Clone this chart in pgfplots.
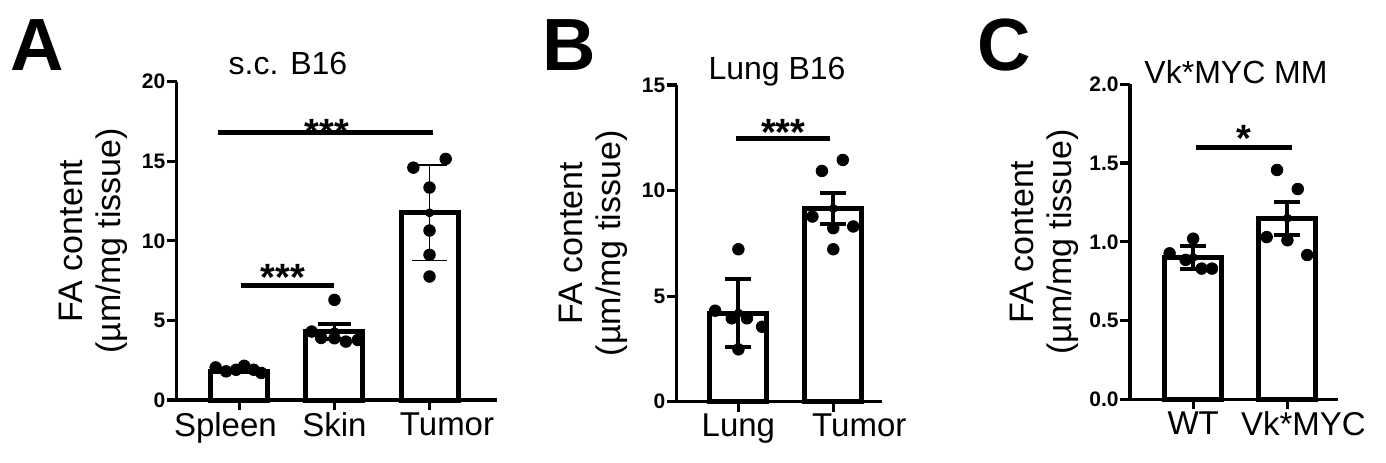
\documentclass[border=0pt]{standalone}
\usepackage{pgfplots}
\pgfplotsset{compat=1.18}
\usepackage{fontspec}
\setmainfont{Liberation Sans}

\pgfplotsset{
  panel/.style={
    scale only axis, clip=false,
    axis x line*=bottom, axis y line*=left,
    axis line style={line width=1.6pt, -},
    tick align=outside, major tick length=5pt,
    tick style={line width=1.6pt, black},
    ymin=0, minor tick num=0,
    /pgf/number format/assume math mode=true,
    yticklabel style={font=\fontsize{10.5}{12}\selectfont\bfseries, inner sep=0.5pt},
    xticklabel style={font=\fontsize{16.5}{18}\selectfont, inner sep=1pt},
    ylabel style={font=\fontsize{17}{19}\selectfont, align=center, anchor=center},
    ylabel={FA content\\(µm/mg tissue)},
  },
  bars/.style={ybar, bar shift=0pt, bar width=28.5pt, fill=white, draw=black, line width=2.5pt},
  dots/.style={only marks, mark=*, mark size=2.9pt, black},
  sig/.style={black, line width=2.4pt, no marks},
  errb/.style 2 args={black, only marks, mark=none, forget plot,
    error bars/.cd, y dir=both, y explicit,
    error bar style={line width=#1, black},
    error mark options={rotate=90, line width=#1, black, mark size=#2}},
}
\newcommand{\starfont}{\fontsize{19}{21}\selectfont\bfseries}

\begin{document}
\begin{tikzpicture}
\useasboundingbox (0,0) rectangle (693pt,231pt);

% ---------------- Panel A ----------------
\begin{axis}[panel,
  at={(88.35pt,31pt)}, anchor=south west,
  width=160.15pt, height=159.15pt,
  xmin=-0.66, xmax=2.71, ymax=20,
  ytick={0,5,10,15,20},
  xtick={0,1,2},
  xticklabels={\hspace*{-14pt}Spleen,Skin,\hspace*{17.5pt}Tumor},
  ylabel style={at={(axis description cs:-0.259,0.5)}},
]
\addplot[bars] coordinates {(0,1.78) (1,4.3) (2,11.76)};
\addplot[errb={1.8pt}{8.3pt}] coordinates {(1,4.3) +- (0,0.47)};
\addplot[errb={0.9pt}{8.7pt}] coordinates {(2,11.76) +- (0,3.0)};
\addplot[dots] coordinates {
  (-0.25,2.05) (-0.14,1.8) (-0.035,1.9) (0.05,2.15) (0.15,1.9) (0.23,1.7)
  (0.76,4.3) (0.86,3.9) (1.0,3.88) (1.12,3.67) (1.245,3.77) (1.0,6.29)
  (1.83,14.6) (2.17,15.15) (2.0,13.35) (2.0,10.65) (2.0,9.12) (2.0,7.76)};
\addplot[sig] coordinates {(-0.23,16.8) (2.04,16.8)};
\addplot[sig] coordinates {(0.02,7.19) (1.0,7.19)};
\node[anchor=base, font=\starfont, inner sep=0pt] at (axis cs:0.92,16.0) {***};
\node[anchor=base, font=\starfont, inner sep=0pt] at (axis cs:0.456,6.85) {***};
\end{axis}

% ---------------- Panel B ----------------
\begin{axis}[panel,
  at={(338.35pt,30.15pt)}, anchor=south west,
  width=102.5pt, height=158.35pt,
  xmin=-0.65, xmax=1.51, ymax=15,
  ytick={0,5,10,15},
  xtick={0,1},
  xticklabels={Lung,\hspace*{26pt}Tumor},
  ylabel style={at={(axis description cs:-0.405,0.5)}},
]
\addplot[bars] coordinates {(0,4.2) (1,9.15)};
\addplot[errb={2pt}{6.5pt}] coordinates {(0,4.2) +- (0,1.6) (1,9.15) +- (0,0.73)};
\addplot[dots] coordinates {
  (0,7.22) (-0.245,4.31) (-0.07,3.95) (0.09,3.95) (0.25,3.55) (0,2.48)
  (1.1,11.45) (0.88,10.93) (0.78,8.77) (1.0,8.22) (1.21,8.3) (1.0,7.22)};
\addplot[sig] coordinates {(-0.02,12.45) (0.97,12.45)};
\node[anchor=base, font=\starfont, inner sep=0pt] at (axis cs:0.474,12.15) {***};
\end{axis}

% ---------------- Panel C ----------------
\begin{axis}[panel,
  at={(565pt,31.35pt)}, anchor=south west,
  width=104.15pt, height=157.5pt,
  xmin=-0.67, xmax=1.54, ymax=2,
  ytick={0,0.5,1,1.5,2},
  yticklabel style={/pgf/number format/.cd, fixed, fixed zerofill, precision=1},
  xtick={0,1},
  xticklabels={WT,\hspace*{16pt}Vk*MYC},
  ylabel style={at={(axis description cs:-0.413,0.5)}},
]
\addplot[bars] coordinates {(0,0.9) (1,1.15)};
\addplot[errb={2pt}{6.5pt}] coordinates {(0,0.9) +- (0,0.075) (1,1.15) +- (0,0.105)};
\addplot[dots] coordinates {
  (-0.25,0.927) (0,1.02) (-0.08,0.885) (0.09,0.83) (0.2,0.83)
  (0.89,1.456) (1.11,1.335) (0.78,1.03) (1.0,1.01) (1.21,0.916)};
\addplot[sig] coordinates {(0.035,1.6) (1.05,1.6)};
\node[anchor=base, font=\starfont, inner sep=0pt] at (axis cs:0.54,1.572) {*};
\end{axis}

% ---------------- Titles and panel letters ----------------
\node[font=\fontsize{16}{18}\selectfont] at (144pt,199.5pt) {s.c. B16};
\node[font=\fontsize{16}{18}\selectfont] at (388.5pt,195pt) {Lung B16};
\node[font=\fontsize{16}{18}\selectfont] at (618pt,195pt) {Vk*MYC MM};
\node[font=\fontsize{37}{40}\selectfont\bfseries] at (18.5pt,208.5pt) {A};
\node[font=\fontsize{37}{40}\selectfont\bfseries] at (284.5pt,208.5pt) {B};
\node[font=\fontsize{37}{40}\selectfont\bfseries] at (502pt,208.5pt) {C};
\end{tikzpicture}
\end{document}
